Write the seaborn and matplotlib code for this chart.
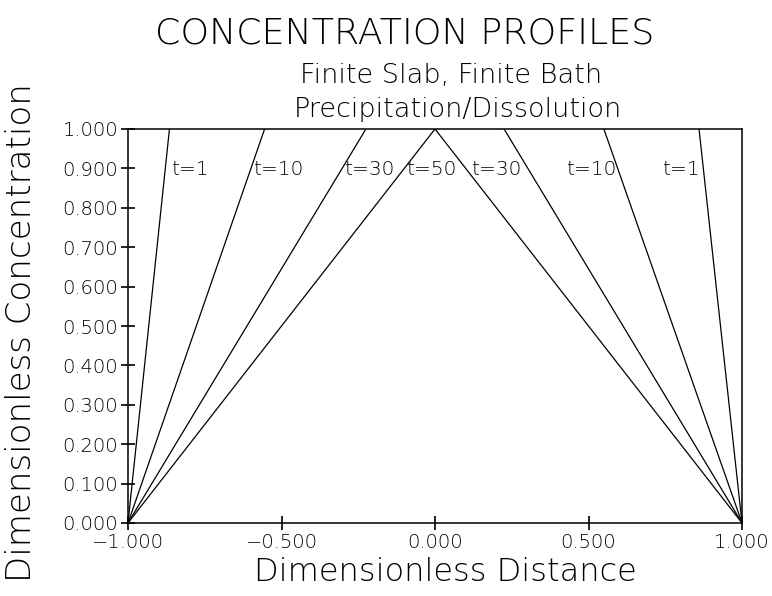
import matplotlib
matplotlib.use("Agg")
import matplotlib.pyplot as plt
import seaborn as sns
import pandas as pd
import numpy as np

# Data: front positions (where the profile reaches 1.0) for each time
times = ["t=1", "t=10", "t=30", "t=50"]
left_front = [-0.865, -0.555, -0.225, 0.0]
right_front = [0.86, 0.55, 0.225, 0.0]
label_x_left = [-0.857, -0.590, -0.293, -0.091]
label_x_right = [0.743, 0.430, 0.121]
label_y = 0.896
x_ticks = [-1.0, -0.5, 0.0, 0.5, 1.0]
y_ticks = [0.0, 0.1, 0.2, 0.3, 0.4, 0.5, 0.6, 0.7, 0.8, 0.9, 1.0]

rows = []
for t, lf, rf in zip(times, left_front, right_front):
    rows.append({"curve": t + "L", "x": -1.0, "y": 0.0})
    rows.append({"curve": t + "L", "x": lf, "y": 1.0})
    rows.append({"curve": t + "R", "x": rf, "y": 1.0})
    rows.append({"curve": t + "R", "x": 1.0, "y": 0.0})
df = pd.DataFrame(rows)

sns.set_style("white")
plt.rcParams.update({
    "font.family": ["DejaVu Sans"],
    "text.color": "black",
    "xtick.bottom": True,
    "ytick.left": True,
    "xtick.direction": "inout",
    "ytick.direction": "inout",
    "xtick.major.size": 10,
    "ytick.major.size": 10,
    "xtick.major.width": 1.2,
    "ytick.major.width": 1.2,
    "xtick.color": "black",
    "ytick.color": "black",
})

fig = plt.figure(figsize=(7.72, 5.96), dpi=100)
ax = fig.add_axes([128/772, 1-523/596, (742-128)/772, (523-129)/596])

for c in df["curve"].unique():
    sub = df[df["curve"] == c]
    sns.lineplot(data=sub, x="x", y="y", ax=ax, color="black", lw=0.9,
                 estimator=None, sort=False, legend=False)

ax.set_xlim(-1, 1)
ax.set_ylim(0, 1)
ax.set_xticks(x_ticks)
ax.set_yticks(y_ticks)
ax.set_xticklabels([f"{v:.3f}".replace("-", "\u2212") for v in x_ticks])
ax.set_yticklabels([f"{v:.3f}" for v in y_ticks])
ax.tick_params(axis="both", which="major", bottom=True, left=True,
               direction="inout", length=10, width=1.2,
               labelsize=14, colors="black", labelcolor="black", pad=2)
for tl in ax.get_xticklabels() + ax.get_yticklabels():
    tl.set_fontweight("light")
for s in ax.spines.values():
    s.set_color("black")
    s.set_linewidth(1.1)

ax.set_xlabel("")
ax.set_ylabel("")

for t, lx in zip(times, label_x_left):
    ax.text(lx, label_y, t, fontsize=14.5, ha="left", va="center",
            fontweight="light", color="black")
for t, lx in zip(times[:3], label_x_right):
    ax.text(lx, label_y, t, fontsize=14.5, ha="left", va="center",
            fontweight="light", color="black")

fig.text(405/772, 1-33/596, "CONCENTRATION PROFILES", fontsize=26.2, ha="center",
         va="center", fontweight="light", color="black")
fig.text(451/772, 1-76/596, "Finite Slab, Finite Bath", fontsize=19.5, ha="center",
         va="center", fontweight="light", color="black")
fig.text(458/772, 1-110/596, "Precipitation/Dissolution", fontsize=19.5, ha="center",
         va="center", fontweight="light", color="black")
fig.text(445/772, 1-572/596, "Dimensionless Distance", fontsize=23, ha="center",
         va="center", fontweight="light", color="black")
fig.text(22/772, 1-333/596, "Dimensionless Concentration", fontsize=24.5, ha="center",
         va="center", rotation=90, fontweight="light", color="black")

fig.savefig("out.png", dpi=100, facecolor="white")
